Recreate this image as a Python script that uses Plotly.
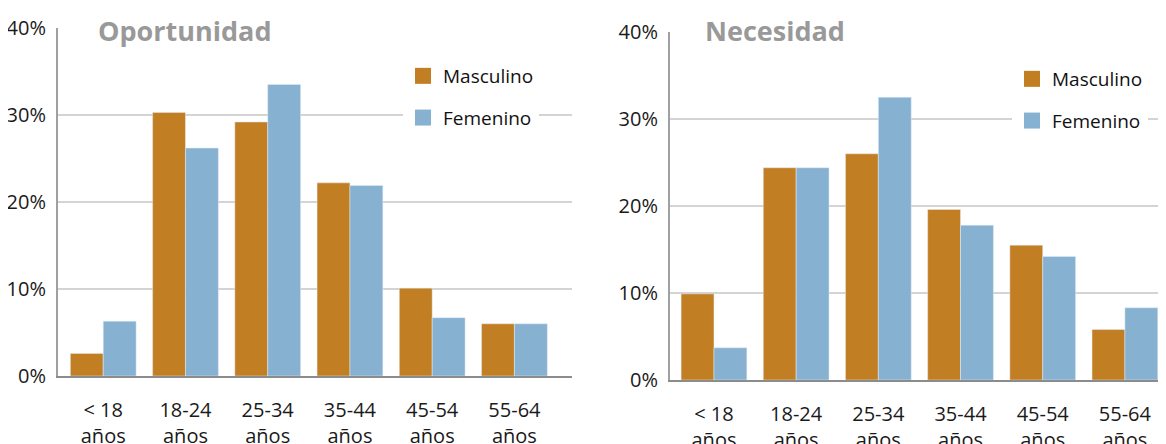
import plotly.graph_objects as go

categories = ["< 18<br>años", "18-24<br>años", "25-34<br>años", "35-44<br>años", "45-54<br>años", "55-64<br>años"]
y_ticks = [0, 10, 20, 30, 40]
y_labels = ["0%", "10%", "20%", "30%", "40%"]

oport_masc = [2.6, 30.3, 29.2, 22.2, 10.1, 6.0]
oport_fem = [6.3, 26.2, 33.5, 21.9, 6.7, 6.0]
neces_masc = [9.9, 24.4, 26.0, 19.6, 15.5, 5.8]
neces_fem = [3.7, 24.4, 32.5, 17.8, 14.2, 8.3]

C_MASC = "#C27E23"
C_FEM = "#86B1D0"
FONT = "Open Sans"
W, H = 1166, 444
OX, OY = 8, 8  # page body margin


def px(x):
    return (x - OX) / W


def py(y):
    return 1 - (y - OY) / H


fig = go.Figure()

# left panel
fig.add_trace(go.Bar(x=categories, y=oport_masc, marker_color=C_MASC, showlegend=False,
                     xaxis="x", yaxis="y"))
fig.add_trace(go.Bar(x=categories, y=oport_fem, marker_color=C_FEM, showlegend=False,
                     xaxis="x", yaxis="y"))
# right panel
fig.add_trace(go.Bar(x=categories, y=neces_masc, marker_color=C_MASC, showlegend=False,
                     xaxis="x2", yaxis="y2"))
fig.add_trace(go.Bar(x=categories, y=neces_fem, marker_color=C_FEM, showlegend=False,
                     xaxis="x2", yaxis="y2"))

# legend entries (square swatches)
for leg, xa, ya in [("legend", "x", "y"), ("legend2", "x2", "y2")]:
    for name, col in [("Masculino", C_MASC), ("Femenino", C_FEM)]:
        fig.add_trace(go.Scatter(x=[None], y=[None], mode="markers", name=name,
                                 marker=dict(symbol="square", size=16, color=col),
                                 legend=leg, legendgroup=leg + name,
                                 xaxis=xa, yaxis=ya))

xax = dict(type="category", showgrid=False, showline=True, linecolor="#8c8c8c", linewidth=2,
           ticks="", tickfont=dict(family=FONT, size=20, color="#1a1a1a"),
           ticklabelstandoff=15, automargin=False, fixedrange=True)
yax = dict(range=[0, 40], tickvals=y_ticks, ticktext=y_labels, showgrid=True,
           gridcolor="#d4d4d4", gridwidth=1.5, showline=True, linecolor="#a0a0a0",
           linewidth=2, ticks="", zeroline=False, automargin=False,
           tickfont=dict(family=FONT, size=20, color="#1a1a1a"), ticklabelstandoff=6)

leg_style = dict(bgcolor="white", font=dict(family=FONT, size=19, color="#111111"),
                 tracegroupgap=14, xanchor="left", yanchor="top", borderwidth=0)

fig.update_layout(
    width=W, height=H,
    margin=dict(l=0, r=0, t=0, b=0, autoexpand=False),
    paper_bgcolor="white", plot_bgcolor="white",
    barmode="group", bargap=0.2, bargroupgap=0,
    xaxis=dict(xax, domain=[px(58), px(572)], range=[-0.55, 5.7], anchor="y"),
    yaxis=dict(yax, domain=[py(376), py(28)], anchor="x"),
    xaxis2=dict(xax, domain=[px(670), px(1166)], range=[-0.535, 5.5], anchor="y2"),
    yaxis2=dict(yax, domain=[py(380), py(32)], anchor="x2"),
    legend=dict(leg_style, x=px(403), y=py(57)),
    legend2=dict(leg_style, x=px(1012), y=py(60)),
    annotations=[
        dict(text="<b>Oportunidad</b>", x=px(184), y=py(30), xref="paper", yref="paper",
             xanchor="center", yanchor="middle", showarrow=False,
             font=dict(family=FONT, size=27, color="#999999")),
        dict(text="<b>Necesidad</b>", x=px(775), y=py(30), xref="paper", yref="paper",
             xanchor="center", yanchor="middle", showarrow=False,
             font=dict(family=FONT, size=27, color="#999999")),
    ],
)

fig.write_html("out.html")
